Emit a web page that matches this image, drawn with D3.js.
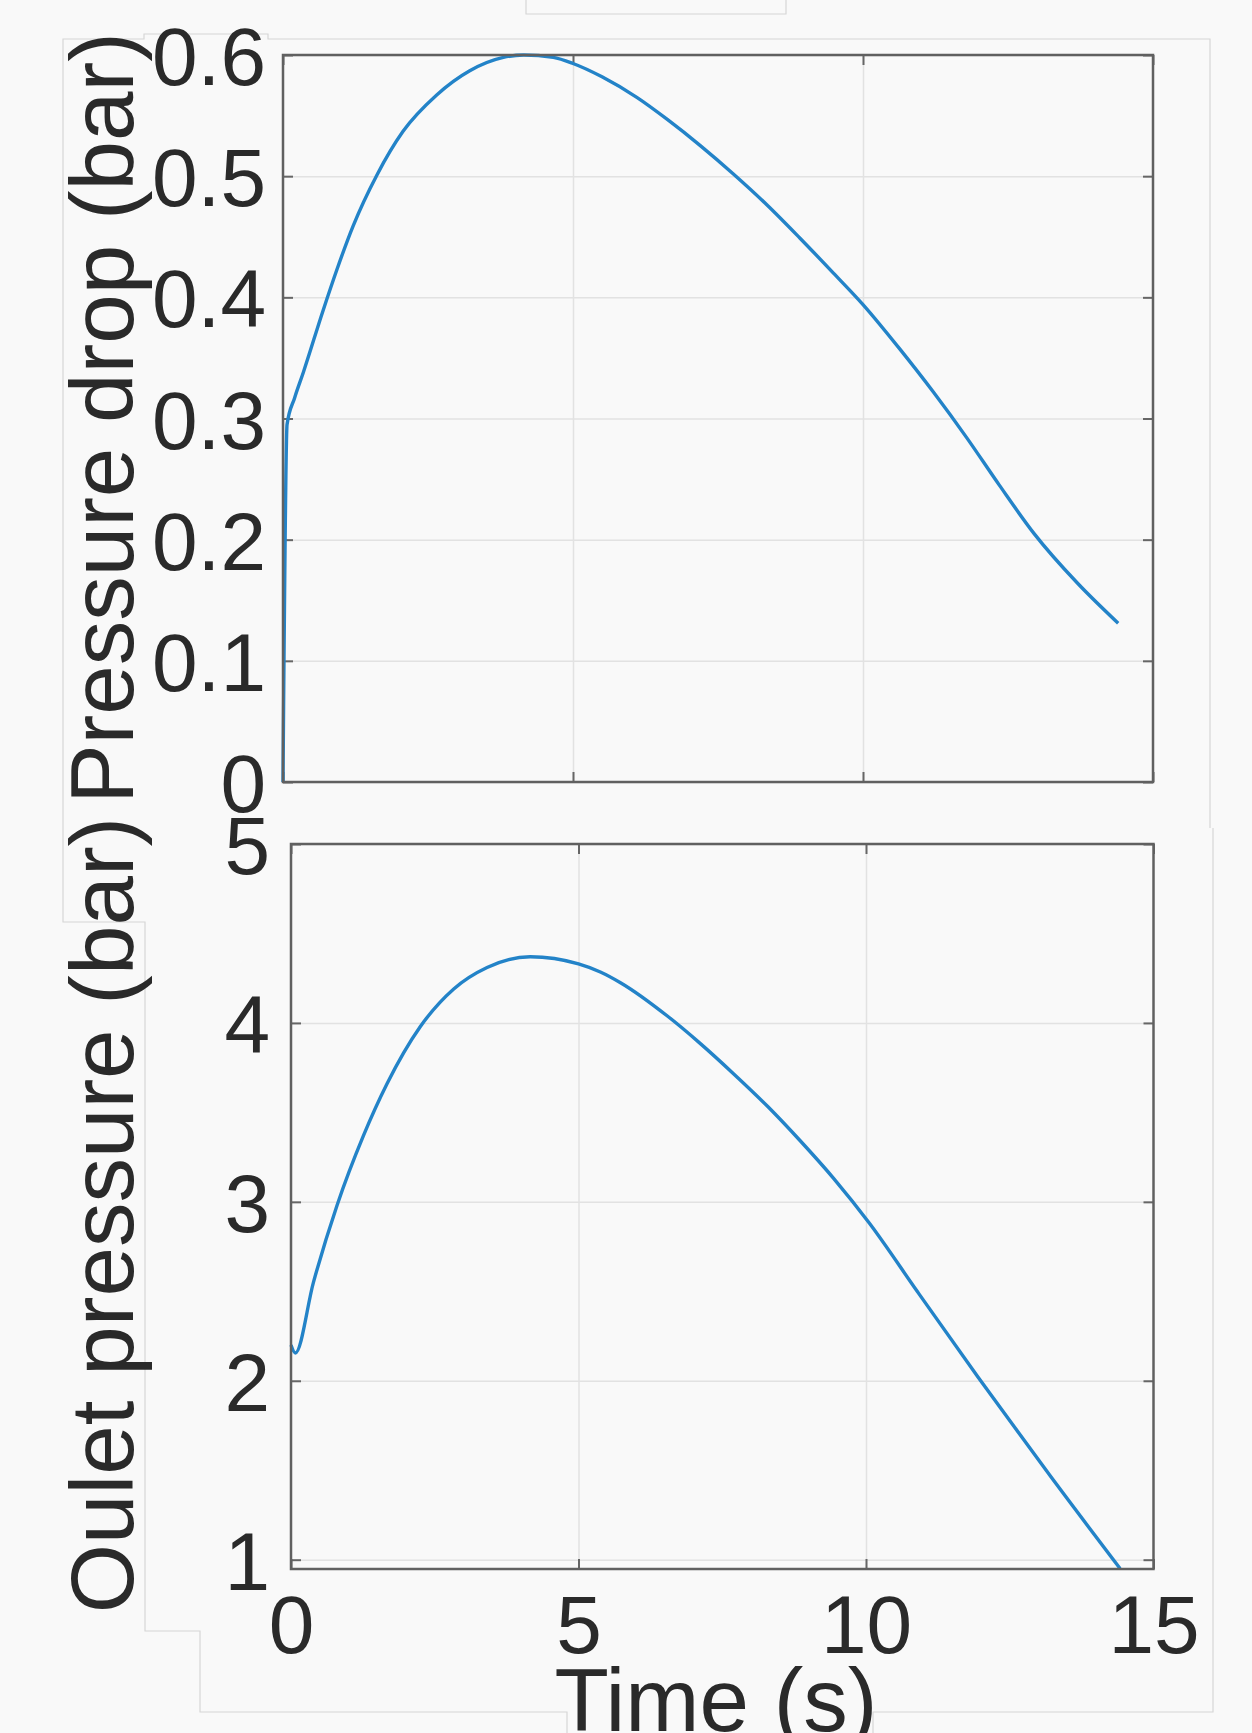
<!DOCTYPE html>
<html>
<head>
<meta charset="utf-8">
<script src="https://d3js.org/d3.v7.min.js"></script>
<style>
  body { margin: 0; background: #f9f9f9; }
  svg { display: block; font-family: "Liberation Sans", Arial, sans-serif; }
  .frame { fill: none; stroke: #606060; stroke-width: 2.5; }
  .grid line { stroke: #e2e2e2; stroke-width: 1.5; }
  .grid path { display: none; }
  .ticks line { stroke: #666; stroke-width: 2; }
  .ticks path { display: none; }
  .ticks text { fill: #2a2a2a; font-size: 82px; }
  .curve { fill: none; stroke: #2383c8; stroke-width: 3.4; stroke-linejoin: round; }
  .label { fill: #2a2a2a; font-size: 89px; }
  .ghost { fill: none; stroke: #d6d6d6; stroke-width: 1.2; }
</style>
</head>
<body>
<div id="chart"></div>
<script>
// pressure drop curve (top panel)
var dropTime = [0, 0.07, 0.2, 0.35, 0.69, 0.93, 1.21, 1.62, 2.07, 2.65, 3.22, 3.8, 4.15, 4.66, 5.0,
  5.5, 6.1, 6.62, 7.2, 7.76, 8.35, 8.91, 9.49, 10.0, 10.64, 11.21, 11.79, 12.35, 12.95, 13.7, 14.4];
var dropValues = [0, 0.295, 0.317, 0.338, 0.389, 0.423, 0.459, 0.501, 0.537, 0.567, 0.587, 0.598, 0.6, 0.598, 0.593,
  0.582, 0.565, 0.547, 0.525, 0.502, 0.476, 0.449, 0.42, 0.394, 0.357, 0.322, 0.284, 0.245, 0.205, 0.164, 0.131];

// outlet pressure curve (bottom panel)
var outTime = [0, 0.075, 0.39, 0.8, 1.26, 1.67, 2.25, 2.83, 3.41, 4.16, 5.0, 5.38, 5.73, 6.54, 7.1,
  7.7, 8.3, 8.86, 9.44, 10.06, 10.89, 11.95, 13.2, 14.42];
var outValues = [2.2, 2.155, 2.55, 2.98, 3.37, 3.66, 3.98, 4.19, 4.31, 4.37, 4.33, 4.285, 4.225, 4.04, 3.89,
  3.715, 3.53, 3.34, 3.13, 2.88, 2.5, 2.02, 1.47, 0.95];

var timeTicks = [0, 5, 10, 15];
var dropTicks = [0, 0.1, 0.2, 0.3, 0.4, 0.5, 0.6];
var dropTickLabels = ['0', '0.1', '0.2', '0.3', '0.4', '0.5', '0.6'];
var outTicks = [1, 2, 3, 4, 5];
var outTickLabels = ['1', '2', '3', '4', '5'];

var width = 1252, height = 1733;

var svg = d3.select('#chart').append('svg')
  .attr('width', width)
  .attr('height', height);

svg.append('rect').attr('width', width).attr('height', height).attr('fill', '#f9f9f9');

// faint outlines left over from the pasted figure
var ghost = [
  [[1210, 828], [1210, 39], [268, 39], [268, 34], [144, 34], [144, 39], [63, 39], [63, 922], [145, 922],
   [145, 1631], [200, 1631], [200, 1712], [567, 1712], [567, 1733]],
  [[873, 1733], [873, 1712], [1213, 1712], [1213, 828]],
  [[526, 0], [526, 14], [786, 14], [786, 0]]
];
svg.selectAll('.ghost').data(ghost).enter().append('path')
  .attr('class', 'ghost')
  .attr('d', d3.line());

function panel(opts) {
  var x = d3.scaleLinear().domain([0, 15]).range([opts.left, opts.right]);
  var y = d3.scaleLinear().domain(opts.yDomain).range([opts.bottom, opts.top]);
  var w = opts.right - opts.left, h = opts.bottom - opts.top;
  var g = svg.append('g');

  // grid
  g.append('g').attr('class', 'grid')
    .attr('transform', 'translate(0,' + opts.bottom + ')')
    .call(d3.axisBottom(x).tickValues(timeTicks.slice(1, 3)).tickSize(-h).tickFormat(''));
  g.append('g').attr('class', 'grid')
    .attr('transform', 'translate(' + opts.left + ',0)')
    .call(d3.axisLeft(y).tickValues(opts.yTicks).tickSize(-w).tickFormat(''));

  // inward ticks on all four sides
  var leftAxis = g.append('g').attr('class', 'ticks')
    .attr('transform', 'translate(' + opts.left + ',0)')
    .call(d3.axisLeft(y).tickValues(opts.yTicks).tickSizeInner(-10).tickSizeOuter(0)
      .tickPadding(opts.labelPad)
      .tickFormat(function(d, i) { return opts.yLabels[i]; }));
  leftAxis.selectAll('text').attr('dy', '0.36em');
  g.append('g').attr('class', 'ticks')
    .attr('transform', 'translate(' + opts.right + ',0)')
    .call(d3.axisRight(y).tickValues(opts.yTicks).tickSizeInner(-10).tickSizeOuter(0).tickFormat(''));
  g.append('g').attr('class', 'ticks')
    .attr('transform', 'translate(0,' + opts.top + ')')
    .call(d3.axisTop(x).tickValues(timeTicks).tickSizeInner(-10).tickSizeOuter(0).tickFormat(''));
  var bottomAxis = g.append('g').attr('class', 'ticks')
    .attr('transform', 'translate(0,' + opts.bottom + ')')
    .call(d3.axisBottom(x).tickValues(timeTicks).tickSizeInner(-10).tickSizeOuter(0)
      .tickPadding(26)
      .tickFormat(opts.showX ? d3.format('d') : ''));
  bottomAxis.selectAll('text').attr('dy', '0.71em');

  g.append('path')
    .datum(opts.t.map(function(t, i) { return [t, opts.v[i]]; }))
    .attr('class', 'curve')
    .attr('d', d3.line()
      .x(function(d) { return x(d[0]); })
      .y(function(d) { return y(d[1]); })
      .curve(d3.curveMonotoneX));

  g.append('rect').attr('class', 'frame')
    .attr('x', opts.left).attr('y', opts.top)
    .attr('width', w).attr('height', h);

  svg.append('text').attr('class', 'label')
    .attr('transform', 'translate(133,' + opts.labelY + ') rotate(-90)')
    .attr('text-anchor', 'middle')
    .text(opts.title);
}

panel({
  left: 283, right: 1153, top: 55, bottom: 782,
  yDomain: [0, 0.6], yTicks: dropTicks, yLabels: dropTickLabels, labelPad: 17,
  t: dropTime, v: dropValues, showX: false,
  title: 'Pressure drop (bar)', labelY: 418
});

panel({
  left: 291, right: 1153.5, top: 844, bottom: 1569,
  yDomain: [0.948, 5], yTicks: outTicks, yLabels: outTickLabels, labelPad: 21,
  t: outTime, v: outValues, showX: true,
  title: 'Oulet pressure (bar)', labelY: 1215
});

svg.append('text').attr('class', 'label')
  .attr('x', 716).attr('y', 1731)
  .attr('text-anchor', 'middle')
  .text('Time (s)');
</script>
</body>
</html>
